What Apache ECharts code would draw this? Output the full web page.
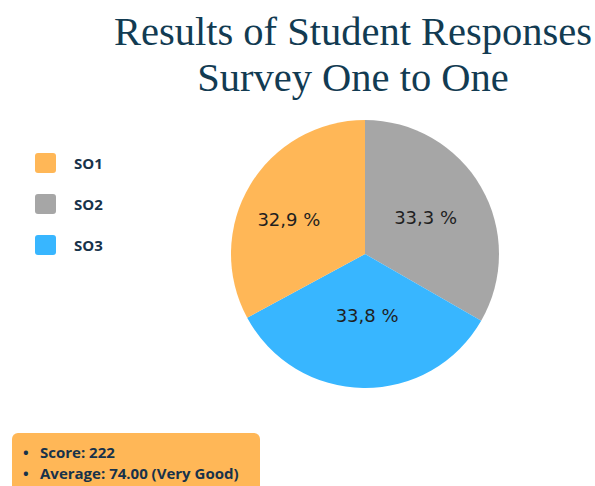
<!DOCTYPE html>
<html>
<head>
<meta charset="utf-8">
<script src="https://cdn.jsdelivr.net/npm/echarts@6/dist/echarts.min.js"></script>
<style>
html,body{margin:0;padding:0;background:#fff;}
#chart{width:595px;height:486px;}
</style>
</head>
<body>
<div id="chart"></div>
<script>
const titleLines = ['Results of Student Responses', 'Survey One to One'];
const categories = ['SO1', 'SO2', 'SO3'];
const values = [32.9, 33.3, 33.8];
const colors = ['#FFB757', '#A6A6A6', '#38B6FF'];
const drawOrder = ['SO2', 'SO3', 'SO1']; // clockwise from 12 o'clock
const summaryLines = ['Score: 222', 'Average: 74.00 (Very Good)'];

// label nudges (style only)
const labelNudge = { SO1: [-16, 1], SO2: [0, -1], SO3: [3, -8] };

const pieData = drawOrder.map(name => {
  const i = categories.indexOf(name);
  return {
    name: name,
    value: values[i],
    itemStyle: { color: colors[i] },
    label: { offset: labelNudge[name] }
  };
});

const legendIcon = 'path://M3,0 H18 A3,3 0 0 1 21,3 V17 A3,3 0 0 1 18,20 H3 A3,3 0 0 1 0,17 V3 A3,3 0 0 1 3,0 Z';

const chart = echarts.init(document.getElementById('chart'), null, { renderer: 'svg' });
chart.setOption({
  backgroundColor: '#ffffff',
  animation: false,
  title: {
    text: titleLines.join('\n'),
    left: 353,
    top: 8,
    padding: 0,
    textAlign: 'center',
    textStyle: {
      fontFamily: '"Liberation Serif", "Times New Roman", serif',
      fontWeight: 'normal',
      fontSize: 40.5,
      lineHeight: 46,
      color: '#123B52'
    }
  },
  legend: {
    orient: 'vertical',
    left: 35,
    top: 153,
    padding: 0,
    icon: legendIcon,
    itemWidth: 21,
    itemHeight: 20,
    itemGap: 21,
    data: categories,
    textStyle: {
      fontFamily: '"Open Sans", sans-serif',
      fontWeight: 'bold',
      fontSize: 15,
      color: '#17324A',
      padding: [0, 0, 0, 13]
    }
  },
  series: [{
    type: 'pie',
    center: [365, 254],
    radius: 134,
    startAngle: 90,
    clockwise: true,
    label: {
      position: 'inside',
      fontFamily: '"DejaVu Sans", sans-serif',
      fontSize: 18,
      color: '#1f1f1f',
      formatter: p => p.value.toFixed(1).replace('.', ',') + ' %'
    },
    labelLine: { show: false },
    emphasis: { disabled: true },
    data: pieData
  }],
  graphic: [
    {
      type: 'rect',
      shape: { x: 12, y: 433, width: 248, height: 70, r: 6 },
      style: { fill: '#FFB757' }
    },
    {
      type: 'text',
      x: 23, y: 462,
      style: {
        text: summaryLines.map(() => '•').join('\n'),
        fontFamily: '"Open Sans", sans-serif',
        fontWeight: 'bold',
        fontSize: 15,
        lineHeight: 21,
        fill: '#17324A',
        verticalAlign: 'middle'
      }
    },
    {
      type: 'text',
      x: 40, y: 462,
      style: {
        text: summaryLines.join('\n'),
        fontFamily: '"Open Sans", sans-serif',
        fontWeight: 'bold',
        fontSize: 15,
        lineHeight: 21,
        fill: '#17324A',
        verticalAlign: 'middle'
      }
    }
  ]
});
</script>
</body>
</html>
